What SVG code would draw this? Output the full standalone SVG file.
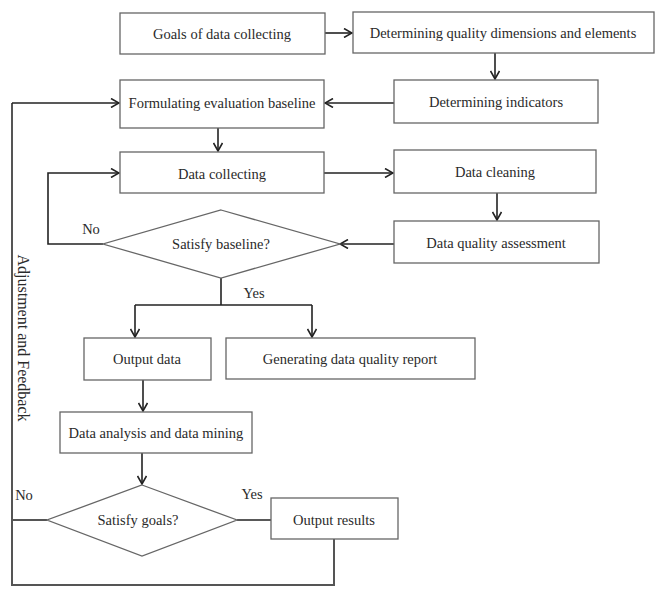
<svg xmlns="http://www.w3.org/2000/svg" width="656" height="590" viewBox="0 0 656 590">
<defs>
<marker id="arr" viewBox="0 0 10 10" refX="9" refY="5" markerWidth="10" markerHeight="10" markerUnits="userSpaceOnUse" orient="auto">
<path d="M1,0.5 L9,5 L1,9.5" fill="none" stroke="#222" stroke-width="1.6"/>
</marker>
</defs>
<style>
.box{fill:#fff;stroke:#666;stroke-width:1.3}
.t{font-family:"Liberation Serif","Times New Roman",serif;font-size:14.5px;fill:#2a2a2a;text-anchor:middle;dominant-baseline:central}
.v{font-size:16px}
.c{fill:none;stroke:#222;stroke-width:1.6}
.ca{fill:none;stroke:#222;stroke-width:1.6;marker-end:url(#arr)}
.fb{fill:none;stroke:#555;stroke-width:2}
</style>
<rect width="656" height="590" fill="#fff"/>
<g id="connectors">
<path class="ca" d="M325,33 H352"/>
<path class="ca" d="M495,53 V79"/>
<path class="ca" d="M394,103 H325"/>
<path class="ca" d="M218,128 V151"/>
<path class="ca" d="M324,173 H393"/>
<path class="ca" d="M497,193 V220"/>
<path class="ca" d="M394,244 H340"/>
<path class="ca" d="M103,244 H48 V173 H119"/>
<path class="c" d="M221,278 V305"/>
<path class="c" d="M135,305 H312"/>
<path class="ca" d="M135,305 V337"/>
<path class="ca" d="M312,305 V337"/>
<path class="ca" d="M143,380 V411"/>
<path class="ca" d="M142,453 V484"/>
<path class="c" d="M237,520 H271"/>
<path class="fb" d="M47,520 H12"/>
<path class="fb" d="M334,539 V585 H12 V103"/>
<path class="ca" d="M12,103 H119"/>
</g>
<g id="n-goals"><rect class="box" x="120" y="13" width="205" height="41"/><text class="t" x="222" y="34">Goals of data collecting</text></g>
<g id="n-dims"><rect class="box" x="353" y="12" width="301" height="41"/><text class="t" x="503" y="33">Determining quality dimensions and elements</text></g>
<g id="n-indicators"><rect class="box" x="394" y="80" width="204" height="43"/><text class="t" x="496" y="102">Determining indicators</text></g>
<g id="n-baseline"><rect class="box" x="120" y="80" width="204" height="48"/><text class="t" x="222" y="103">Formulating evaluation baseline</text></g>
<g id="n-collecting"><rect class="box" x="120" y="152" width="204" height="41"/><text class="t" x="222" y="174">Data collecting</text></g>
<g id="n-cleaning"><rect class="box" x="394" y="150" width="202" height="43"/><text class="t" x="495" y="172">Data cleaning</text></g>
<g id="n-assessment"><rect class="box" x="394" y="221" width="205" height="42"/><text class="t" x="496" y="243">Data quality assessment</text></g>
<g id="n-satisfy-baseline"><polygon class="box" points="221,210 340,244 221,278 103,244"/><text class="t" x="221" y="244">Satisfy baseline?</text></g>
<g id="n-output-data"><rect class="box" x="84" y="338" width="127" height="42"/><text class="t" x="147" y="359">Output data</text></g>
<g id="n-report"><rect class="box" x="226" y="338" width="249" height="41"/><text class="t" x="350" y="359">Generating data quality report</text></g>
<g id="n-analysis"><rect class="box" x="60" y="412" width="192" height="41"/><text class="t" x="156" y="433">Data analysis and data mining</text></g>
<g id="n-satisfy-goals"><polygon class="box" points="142,485 237,520 142,556 47,520"/><text class="t" x="138" y="520">Satisfy goals?</text></g>
<g id="n-results"><rect class="box" x="271" y="498" width="127" height="41"/><text class="t" x="334" y="520">Output results</text></g>
<g id="labels">
<text class="t" x="91" y="229">No</text>
<text class="t" x="254" y="293">Yes</text>
<text class="t" x="24" y="495">No</text>
<text class="t" x="252" y="494">Yes</text>
<text class="t v" transform="translate(23,338) rotate(90)">Adjustment and Feedback</text>
</g>
</svg>
